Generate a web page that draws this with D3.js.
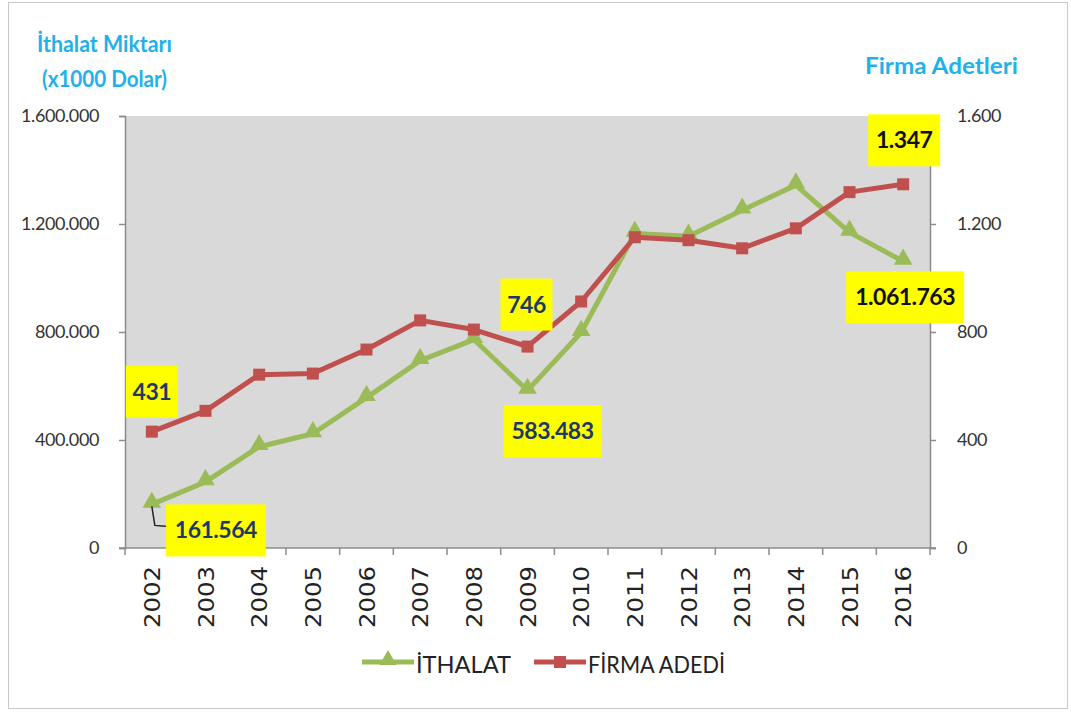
<!DOCTYPE html>
<html>
<head>
<meta charset="utf-8">
<script src="https://cdn.jsdelivr.net/npm/d3@7"></script>
<style>
  body { margin: 0; background: #fff; }
  svg { display: block; font-family: Lato, "Open Sans", sans-serif; }
</style>
</head>
<body>
<svg id="chart" width="1071" height="713"></svg>
<script>
const years = ["2002","2003","2004","2005","2006","2007","2008","2009","2010","2011","2012","2013","2014","2015","2016"];
const ithalat = [161564, 245000, 375000, 423000, 557000, 694000, 772000, 583483, 798000, 1165000, 1155000, 1251000, 1344000, 1169000, 1061763];
const firma = [431, 508, 642, 646, 735, 843, 809, 746, 913, 1151, 1140, 1110, 1184, 1318, 1347];
const leftTicks = [0, 400000, 800000, 1200000, 1600000];
const rightTicks = [0, 400, 800, 1200, 1600];

const svg = d3.select("#chart");
const W = 1071, H = 713;
const m = { left: 125, right: 930, top: 116, bottom: 548 };

// number format with dot as thousands separator
const fmt = d3.formatLocale({ decimal: ",", thousands: ".", grouping: [3], currency: ["", ""] }).format(",d");

// outer frame
svg.append("rect").attr("x", 8.5).attr("y", 2.5).attr("width", W - 12).attr("height", H - 7)
  .attr("fill", "none").attr("stroke", "#c8c8c8").attr("stroke-width", 1);

const x = d3.scaleBand().domain(years).range([m.left, m.right]);
const yL = d3.scaleLinear().domain([0, 1600000]).range([m.bottom, m.top]);
const yR = d3.scaleLinear().domain([0, 1600]).range([m.bottom, m.top]);

// plot area
svg.append("rect").attr("x", m.left).attr("y", m.top)
  .attr("width", m.right - m.left).attr("height", m.bottom - m.top)
  .attr("fill", "#d9d9d9");

// left axis
const gL = svg.append("g").attr("transform", `translate(${m.left},0)`)
  .call(d3.axisLeft(yL).tickValues(leftTicks).tickFormat(fmt).tickSize(6).tickPadding(20));
// right axis
const gR = svg.append("g").attr("transform", `translate(${m.right},0)`)
  .call(d3.axisRight(yR).tickValues(rightTicks).tickFormat(fmt).tickSize(6).tickPadding(21));
[gL, gR].forEach(g => {
  g.select(".domain").attr("stroke", "#8c8c8c").attr("stroke-width", 1.5);
  g.selectAll(".tick line").attr("stroke", "#8c8c8c").attr("stroke-width", 1.5);
  g.selectAll(".tick text").attr("font-size", 18).attr("fill", "#333")
    .attr("font-family", "Lato, sans-serif").style("letter-spacing", "-0.4px");
});

// bottom axis: ticks at band boundaries
const gB = svg.append("g");
gB.append("line").attr("x1", m.left - 6).attr("x2", m.right + 6)
  .attr("y1", m.bottom).attr("y2", m.bottom).attr("stroke", "#8c8c8c").attr("stroke-width", 1.5);
const bounds = years.map(y => x(y)).concat([m.right]);
gB.selectAll("line.tk").data(bounds).join("line").attr("class", "tk")
  .attr("x1", d => d).attr("x2", d => d).attr("y1", m.bottom).attr("y2", m.bottom + 7)
  .attr("stroke", "#8c8c8c").attr("stroke-width", 1.5);
gB.selectAll("text").data(years).join("text")
  .attr("transform", d => `translate(${x(d) + x.bandwidth() / 2 + 8},${m.bottom + 18}) rotate(-90)`)
  .attr("text-anchor", "end").attr("font-size", 21).attr("fill", "#222")
  .attr("font-family", "'DejaVu Sans', sans-serif")
  .attr("textLength", 62).attr("lengthAdjust", "spacingAndGlyphs")
  .text(d => d);

// lines
const cx = d => x(d) + x.bandwidth() / 2;
const lineL = d3.line().x((d, i) => cx(years[i])).y(d => yL(d));
const lineR = d3.line().x((d, i) => cx(years[i])).y(d => yR(d));
const green = "#9bbb59", red = "#c0504d";

svg.append("path").datum(ithalat).attr("d", lineL)
  .attr("fill", "none").attr("stroke", green).attr("stroke-width", 5).attr("stroke-linejoin", "round");
svg.append("g").selectAll("path").data(ithalat).join("path")
  .attr("d", d3.symbol().type(d3.symbolTriangle).size(150))
  .attr("transform", (d, i) => `translate(${cx(years[i])},${yL(d) - 2})`)
  .attr("fill", green);

svg.append("path").datum(firma).attr("d", lineR)
  .attr("fill", "none").attr("stroke", red).attr("stroke-width", 5).attr("stroke-linejoin", "round");
svg.append("g").selectAll("rect").data(firma).join("rect")
  .attr("x", (d, i) => cx(years[i]) - 6).attr("y", d => yR(d) - 6)
  .attr("width", 12).attr("height", 12).attr("fill", red);

// data labels (yellow boxes)
const labels = [
  { s: "R", i: 0, text: "431", dx: 0, dy: -40, w: 52, col: "#1f3864" },
  { s: "L", i: 0, text: "161.564", dx: 64, dy: 26, w: 100, col: "#1f3864", leader: true },
  { s: "R", i: 7, text: "746", dx: -1, dy: -42, w: 52, col: "#1f3864" },
  { s: "L", i: 7, text: "583.483", dx: 25, dy: 41, w: 98, col: "#1f3864" },
  { s: "R", i: 14, text: "1.347", dx: 1, dy: -44, w: 72, col: "#111" },
  { s: "L", i: 14, text: "1.061.763", dx: 2, dy: 36, w: 118, col: "#111" }
];
const gLab = svg.append("g");
labels.forEach(l => {
  const px = cx(years[l.i]);
  const py = l.s === "L" ? yL(ithalat[l.i]) : yR(firma[l.i]);
  const lx = px + l.dx, ly = py + l.dy;
  if (l.leader) {
    gLab.append("path")
      .attr("d", `M${px},${py + 2}L${px + 3},${py + 21}L${lx - l.w / 2 + 2},${py + 22}`)
      .attr("fill", "none").attr("stroke", "#222").attr("stroke-width", 1.5);
  }
  gLab.append("rect").attr("x", lx - l.w / 2).attr("y", ly - 26)
    .attr("width", l.w).attr("height", 52).attr("fill", "#ffff00");
  gLab.append("text").attr("x", lx).attr("y", ly + 8)
    .attr("text-anchor", "middle").attr("font-size", 23).attr("font-weight", "bold")
    .attr("fill", l.col).style("letter-spacing", "-0.5px").text(l.text);
});

// axis titles
const blue = "#1fb1ea";
const titles = [
  { t: "İthalat Miktarı", x: 37, y: 52, w: 135 },
  { t: "(x1000 Dolar)", x: 42, y: 87, w: 125 },
  { t: "Firma Adetleri", x: 865, y: 74, w: 153 }
];
titles.forEach(t => {
  svg.append("text").attr("x", t.x).attr("y", t.y)
    .attr("font-size", 23).attr("font-weight", "bold").attr("fill", blue)
    .attr("textLength", t.w).attr("lengthAdjust", "spacingAndGlyphs").text(t.t);
});

// legend
const leg = svg.append("g");
const legItems = [
  { name: "İTHALAT", col: green, x: 362, type: "tri", tw: 95 },
  { name: "FİRMA ADEDİ", col: red, x: 534, type: "sq", tw: 137 }
];
legItems.forEach(it => {
  leg.append("line").attr("x1", it.x).attr("x2", it.x + 52).attr("y1", 662).attr("y2", 662)
    .attr("stroke", it.col).attr("stroke-width", 5);
  if (it.type === "tri") {
    leg.append("path").attr("d", d3.symbol().type(d3.symbolTriangle).size(130))
      .attr("transform", `translate(${it.x + 26},660)`).attr("fill", it.col);
  } else {
    leg.append("rect").attr("x", it.x + 20).attr("y", 656).attr("width", 12).attr("height", 12).attr("fill", it.col);
  }
  leg.append("text").attr("x", it.x + 54).attr("y", 673)
    .attr("font-size", 24).attr("fill", "#222")
    .attr("textLength", it.tw).attr("lengthAdjust", "spacingAndGlyphs").text(it.name);
});
</script>
</body>
</html>
